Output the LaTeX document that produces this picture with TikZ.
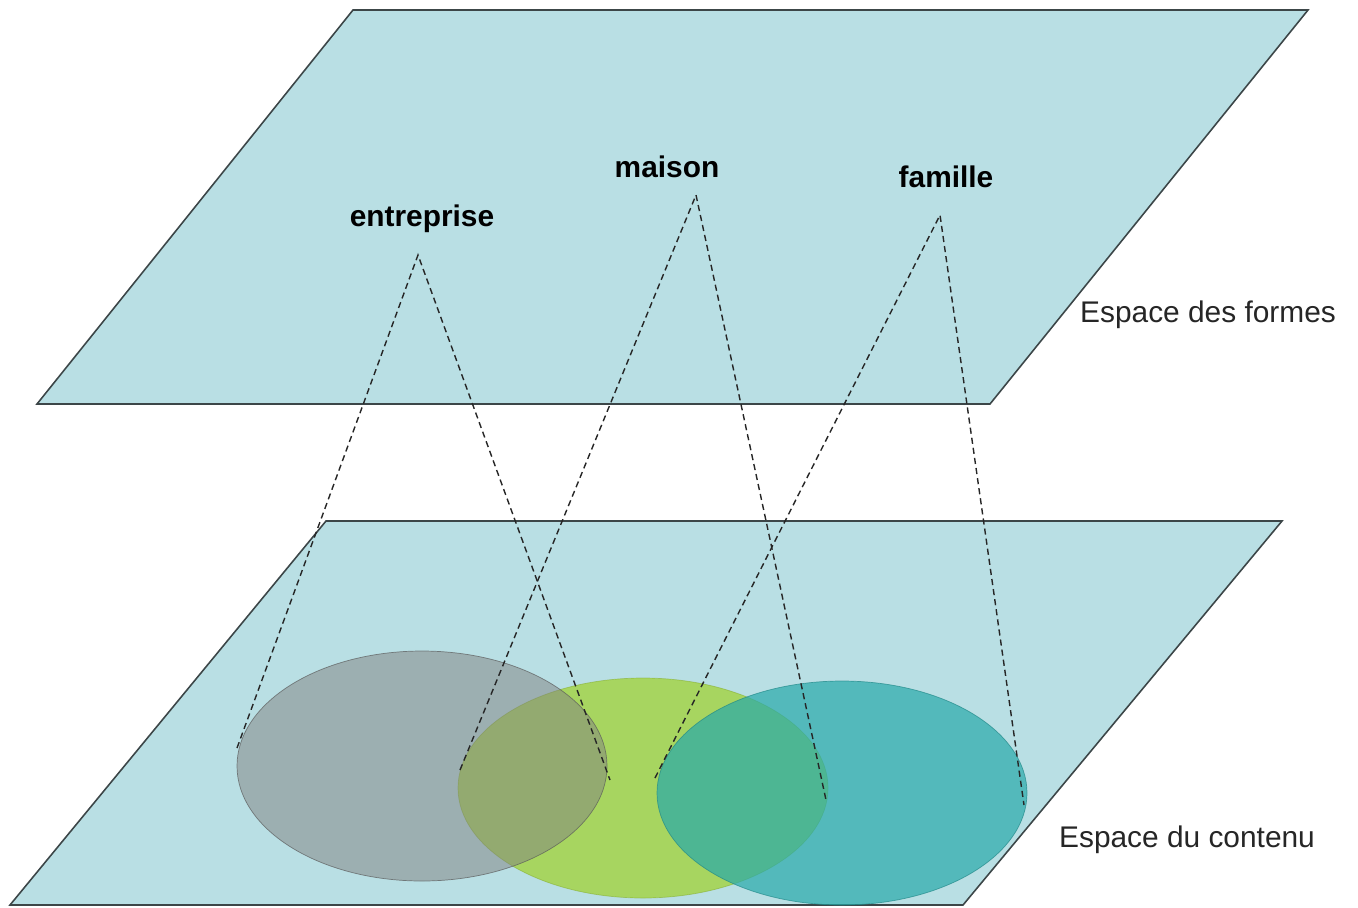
\documentclass[tikz,border=0pt]{standalone}
\usepackage{fontspec}
\newfontfamily\arial{Liberation Sans}
\definecolor{plan}{RGB}{185,223,228}
\definecolor{bord}{RGB}{60,70,72}
\definecolor{vert}{RGB}{160,210,40}
\definecolor{bleu}{RGB}{40,170,170}
\tikzset{
  plane/.style={draw=bord,line width=0.9pt,fill=plan},
  mot/.style={font=\arial\bfseries\fontsize{17}{20}\selectfont},
  nom/.style={font=\arial\fontsize{17}{20}\selectfont,text=black!85},
  lien/.style={dashed,dash pattern=on 3.5pt off 2.3pt,line width=0.8pt,draw=black!85}
}
\begin{document}
\begin{tikzpicture}[x=0.02cm,y=-0.02cm]
            \useasboundingbox (0,0) rectangle (1358,907);
            % les deux plans
            \draw [plane](353,10)--(1308,10)--(990,404)--(37,404)--cycle;
            \draw [plane](326,521)--(1282,521)--(963,905)--(10,905)--cycle;
            \node [nom] (formes) at (1208,315) {Espace des formes};
            \node [nom] (contenu) at (1187,840) {Espace du contenu};
            % les ensembles
            \draw [fill=vert,fill opacity=0.7,draw=vert!80!black,draw opacity=0.5](643,788) ellipse [x radius=185,y radius=110];
            \draw [fill=gray,fill opacity=0.5,draw=gray!70!black,draw opacity=0.7](422,766) ellipse [x radius=185,y radius=115];
            \draw [fill=bleu,fill opacity=0.7,draw=bleu!80!black,draw opacity=0.7](842,793) ellipse [x radius=185,y radius=112];
            % les formes
            \node [mot] (entreprise) at (422,219) {entreprise};
            \node [mot] (maison) at (667,167) {maison};
            \node [mot] (famille) at (946,177) {famille};
            \coordinate (e0) at (418,255); \coordinate (e1) at (237,748); \coordinate (e2) at (610,780);
            \coordinate (m0) at (696,195); \coordinate (m1) at (460,770); \coordinate (m2) at (826,800);
            \coordinate (f0) at (940,215); \coordinate (f1) at (655,778); \coordinate (f2) at (1024,805);
            \draw [lien](e1)--(e0)--(e2);
            \draw [lien](m1)--(m0)--(m2);
            \draw [lien](f1)--(f0)--(f2);
        \end{tikzpicture}
\end{document}
